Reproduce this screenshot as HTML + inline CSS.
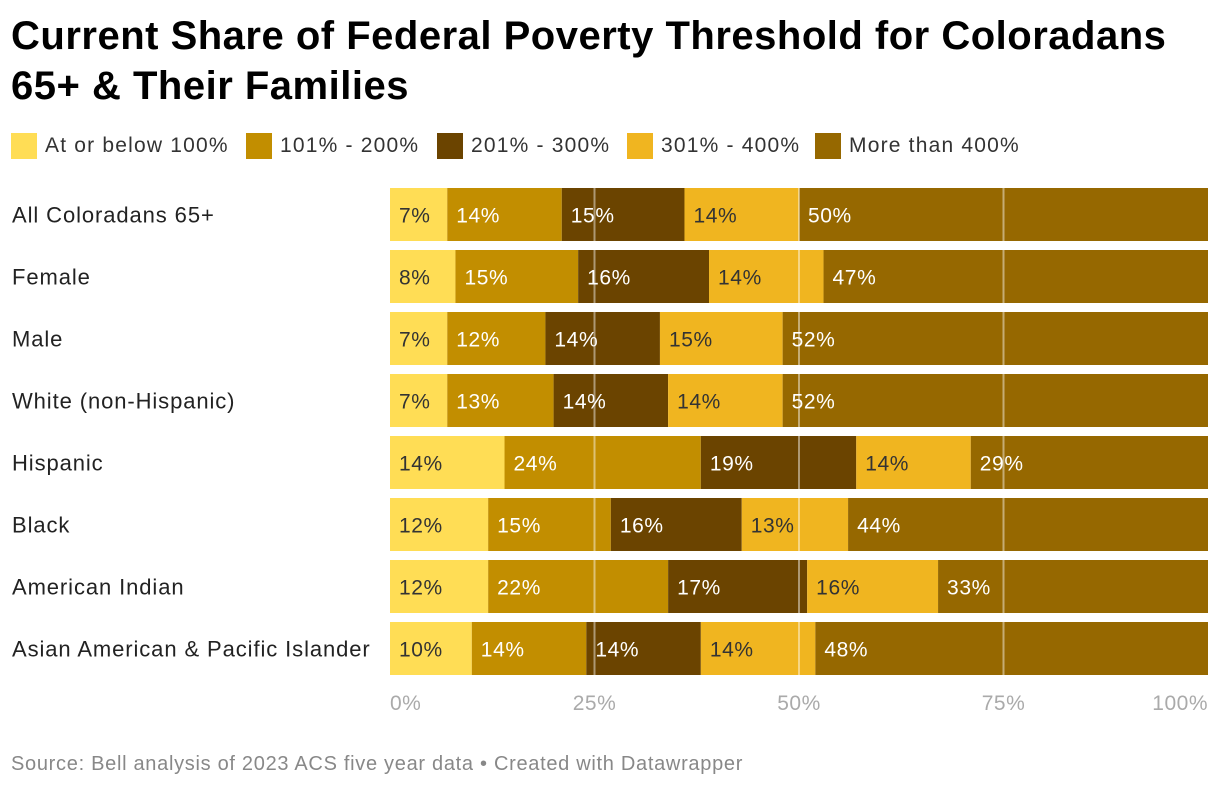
<!DOCTYPE html>
<html><head><meta charset="utf-8"><style>
body{margin:0;background:#fff;width:1220px;height:790px;overflow:hidden;font-family:"Liberation Sans",sans-serif;}
h1{position:absolute;left:11px;top:11px;margin:0;font-size:40px;line-height:50px;font-weight:bold;color:#000;letter-spacing:0.5px}
.li{position:absolute;top:133px;display:flex;align-items:center;font-size:21px;letter-spacing:1.2px;color:#333;white-space:nowrap}
.sw{width:26px;height:26px;margin-right:8px}
.src{position:absolute;left:11px;top:753px;font-size:20px;letter-spacing:0.7px;color:#888;white-space:nowrap}
</style></head><body>
<h1>Current Share of Federal Poverty Threshold for Coloradans<br>65+ &amp; Their Families</h1>
<div>
<div class="li" style="left:11px"><div class="sw" style="background:#ffdd55"></div>At or below 100%</div>
<div class="li" style="left:246px"><div class="sw" style="background:#c28e00"></div>101% - 200%</div>
<div class="li" style="left:437px"><div class="sw" style="background:#6b4400"></div>201% - 300%</div>
<div class="li" style="left:627px"><div class="sw" style="background:#f0b520"></div>301% - 400%</div>
<div class="li" style="left:815px"><div class="sw" style="background:#966800"></div>More than 400%</div>
</div>
<svg id="chart" width="1220" height="790" style="position:absolute;left:0;top:0"></svg>
<div class="src">Source: Bell analysis of 2023 ACS five year data • Created with Datawrapper</div>
<script>
const categories=["All Coloradans 65+","Female","Male","White (non-Hispanic)","Hispanic","Black","American Indian","Asian American & Pacific Islander"];
const s1=[7,8,7,7,14,12,12,10];
const s2=[14,15,12,13,24,15,22,14];
const s3=[15,16,14,14,19,16,17,14];
const s4=[14,14,15,14,14,13,16,14];
const s5=[50,47,52,52,29,44,33,48];
const ticks=[0,25,50,75,100];
const series=[s1,s2,s3,s4,s5];
const colors=["#ffdd55","#c28e00","#6b4400","#f0b520","#966800"];
const textCol=["#333","#fff","#fff","#333","#fff"];
const NS="http://www.w3.org/2000/svg";
const svg=document.getElementById('chart');
const x0=390,x1=1208,y0=188,step=62,bh=53;
const X=v=>x0+(x1-x0)*v/100;
const Y=i=>y0+i*step;
function mk(t,a){const e=document.createElementNS(NS,t);for(const k in a)e.setAttribute(k,a[k]);svg.appendChild(e);return e;}
categories.forEach((c,i)=>{
  const t=mk('text',{x:12,y:Y(i)+bh/2+8,'font-size':22,'letter-spacing':0.9,fill:'#222'});
  
  
  t.textContent=c;
  let cum=0;
  series.forEach((s,j)=>{
    const v=s[i];
    const r=mk('rect',{x:X(cum),y:Y(i),width:X(cum+v)-X(cum),height:bh,fill:colors[j]});
    
    
    cum+=v;
  });
});
ticks.forEach(t=>{
  if(t>0&&t<100){const l=mk('line',{x1:X(t),x2:X(t),y1:y0,y2:Y(7)+bh,stroke:'rgba(255,255,255,0.45)','stroke-width':2});
  
  }
  const tx=mk('text',{x:X(t),y:710,'font-size':21,'letter-spacing':0.5,fill:'#aaa','text-anchor':t==0?'start':t==100?'end':'middle'});
  
  
  tx.textContent=t+'%';
});
categories.forEach((c,i)=>{
  let cum=0;
  series.forEach((s,j)=>{
    const v=s[i];
    const t=mk('text',{x:X(cum)+9,y:Y(i)+bh/2+8,'font-size':21,'letter-spacing':0.6,fill:textCol[j]});
    
    
    t.textContent=v+'%';
    cum+=v;
  });
});
</script>
</body></html>
